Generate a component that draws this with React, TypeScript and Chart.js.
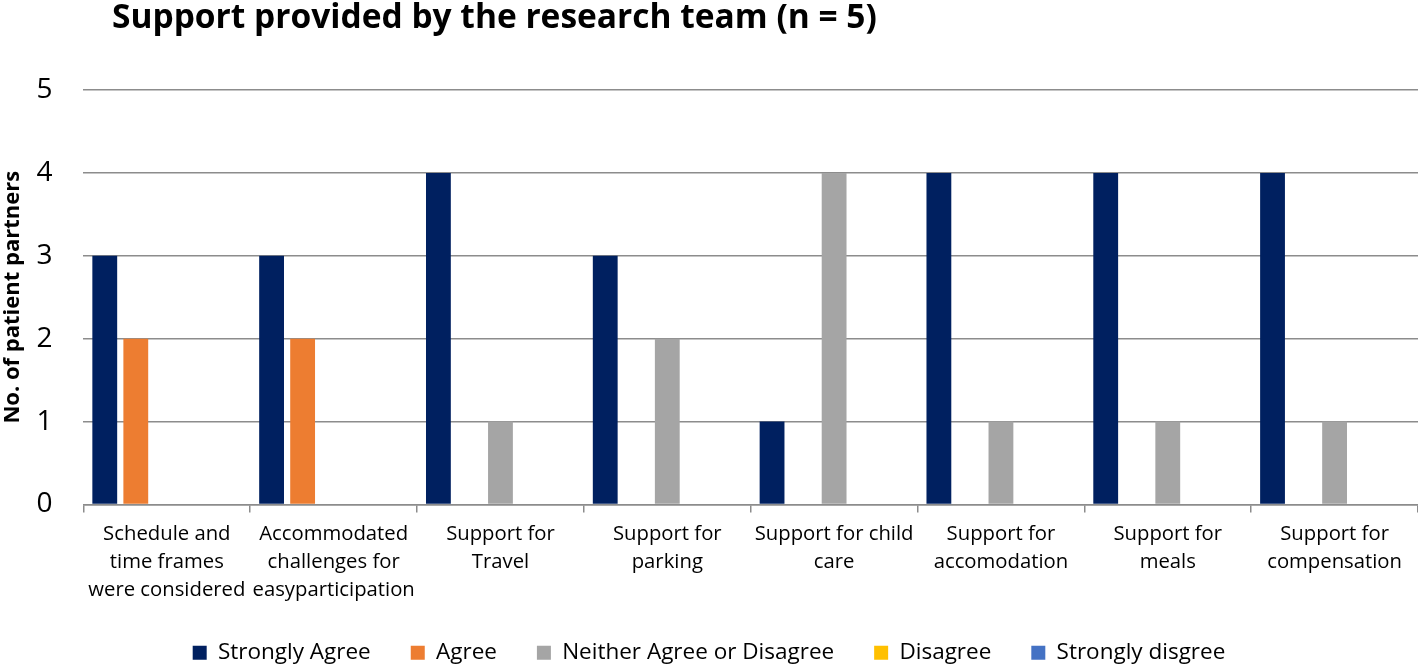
import React, { useEffect, useRef } from "react";
import { Chart, registerables } from "chart.js";

Chart.register(...registerables);

const TITLE = "Support provided by the research team (n = 5)";
const Y_TITLE = "No. of patient partners";

const categories: string[][] = [
  ["Schedule and", "time frames", "were considered"],
  ["Accommodated", "challenges for", "easyparticipation"],
  ["Support for", "Travel"],
  ["Support for", "parking"],
  ["Support for child", "care"],
  ["Support for", "accomodation"],
  ["Support for", "meals"],
  ["Support for", "compensation"],
];

const seriesNames = [
  "Strongly Agree",
  "Agree",
  "Neither Agree or Disagree",
  "Disagree",
  "Strongly disgree",
];

const stronglyAgree = [3, 3, 4, 3, 1, 4, 4, 4];
const agree = [2, 2, 0, 0, 0, 0, 0, 0];
const neither = [0, 0, 1, 2, 4, 1, 1, 1];
const disagree = [0, 0, 0, 0, 0, 0, 0, 0];
const stronglyDisagree = [0, 0, 0, 0, 0, 0, 0, 0];

const seriesColors = ["#002060", "#ED7D31", "#A5A5A5", "#FFC000", "#4472C4"];

const yTicks = [0, 1, 2, 3, 4, 5];

const FONT = "'Open Sans', sans-serif";
const LEGEND_SHIFT = 11;

export default function App() {
  const ref = useRef<HTMLCanvasElement | null>(null);

  useEffect(() => {
    document.body.style.margin = "0";
    const canvas = ref.current;
    if (!canvas) return;

    const titlePlugin = {
      id: "customTitle",
      afterLayout(chart: any) {
        const lg = chart.legend;
        if (lg) {
          lg.top -= LEGEND_SHIFT;
          lg.bottom -= LEGEND_SHIFT;
        }
      },
      afterDraw(chart: any) {
        const ctx = chart.ctx;
        ctx.save();
        ctx.font = `bold 33.5px ${FONT}`;
        ctx.fillStyle = "#000";
        ctx.textAlign = "left";
        ctx.textBaseline = "alphabetic";
        ctx.fillText(TITLE, 112, 28);
        ctx.restore();
      },
    };

    const values = [stronglyAgree, agree, neither, disagree, stronglyDisagree];

    const chart = new Chart(canvas, {
      type: "bar",
      data: {
        labels: categories,
        datasets: seriesNames.map((name, i) => ({
          label: name,
          data: values[i],
          backgroundColor: seriesColors[i],
          borderWidth: 0,
          categoryPercentage: 0.93,
          barPercentage: 0.8,
        })),
      },
      options: {
        responsive: false,
        animation: false,
        layout: { padding: { top: 90, right: 0, left: 0, bottom: -21 } },
        plugins: {
          title: { display: false },
          tooltip: { enabled: false },
          legend: {
            position: "bottom",
            labels: {
              boxWidth: 14,
              boxHeight: 14,
              color: "#000",
              padding: 40,
              font: { family: FONT, size: 22.5 },
            },
          },
        },
        scales: {
          x: {
            grid: {
              drawOnChartArea: false,
              drawTicks: true,
              tickLength: 8,
              color: "#8c8c8c",
              lineWidth: 1.5,
            },
            border: { display: true, color: "#8c8c8c", width: 1.5 },
            ticks: {
              color: "#000",
              maxRotation: 0,
              autoSkip: false,
              padding: 8,
              font: { family: FONT, size: 20.3, lineHeight: 1.38 },
            },
          },
          y: {
            min: 0,
            max: 5,
            afterBuildTicks(axis: any) {
              axis.ticks = yTicks.map((v) => ({ value: v }));
            },
            grid: { color: "#8c8c8c", drawTicks: false, lineWidth: 1.5 },
            border: { display: false },
            ticks: {
              color: "#000",
              padding: 31,
              font: { family: FONT, size: 28 },
            },
            title: {
              display: true,
              text: Y_TITLE,
              color: "#000",
              padding: { top: 0, bottom: -21 },
              font: { family: FONT, size: 22, weight: "bold" },
            },
          },
        },
      },
      plugins: [titlePlugin],
    });

    return () => chart.destroy();
  }, []);

  return (
    <div style={{ position: "absolute", left: 0, top: 0, width: 1418, height: 664 }}>
      <canvas ref={ref} width={1418} height={664} />
    </div>
  );
}
